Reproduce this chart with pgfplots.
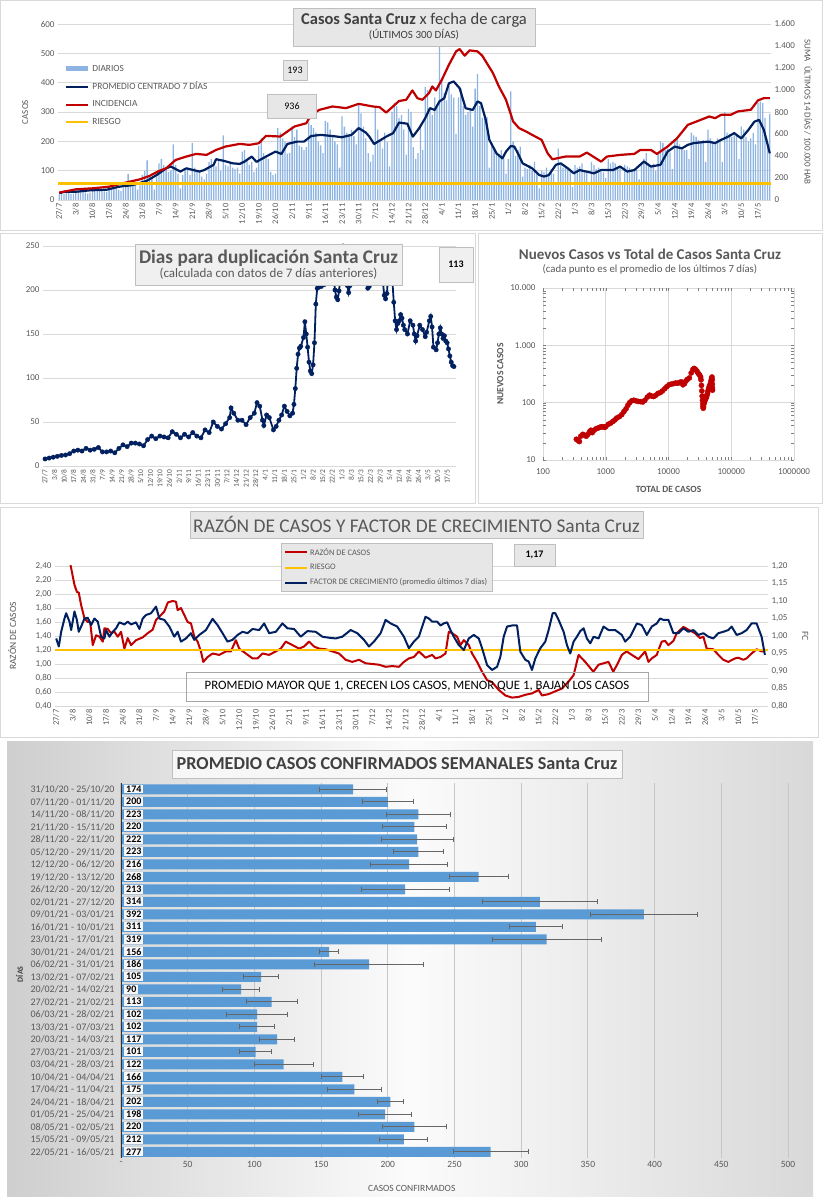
\documentclass[border=0pt]{standalone}
\usepackage{fontspec}
\setmainfont{Carlito}
\usepackage{pgfplots}
\pgfplotsset{compat=1.18}
\usepackage{pgfplotstable}

\definecolor{navy}{HTML}{002060}
\definecolor{dred}{HTML}{C00000}
\definecolor{gold}{HTML}{FFC000}
\definecolor{barblue}{HTML}{8DB4E2}
\definecolor{bblue}{HTML}{5B9BD5}
\definecolor{txt}{HTML}{595959}
\definecolor{ttl}{HTML}{404040}
\definecolor{gridc}{HTML}{D9D9D9}
\definecolor{boxbg}{HTML}{E7E7E7}
\definecolor{boxln}{HTML}{BFBFBF}

\newcommand\fs[1]{\fontsize{#1}{#1}\selectfont}

\tikzset{tbox/.style={draw=boxln, fill=boxbg, align=center, text=ttl, inner sep=2pt}}
\pgfplotsset{
  base/.style={scale only axis, anchor=south west,
    /pgf/number format/assume math mode=true,
    tick label style={text=txt, font=\fs{9}}, label style={text=txt},
    major tick length=0pt, grid style={gridc, line width=0.6pt}},
  dates/.style={xtick={0,7,...,294},
    xticklabels={27/7,3/8,10/8,17/8,24/8,31/8,7/9,14/9,21/9,28/9,5/10,12/10,19/10,26/10,2/11,9/11,16/11,23/11,30/11,7/12,14/12,21/12,28/12,4/1,11/1,18/1,25/1,1/2,8/2,15/2,22/2,1/3,8/3,15/3,22/3,29/3,5/4,12/4,19/4,26/4,3/5,10/5,17/5},
    xticklabel style={rotate=90, anchor=east, font=\fs{8.5}}},
}

% daily cases, 27/7 .. 22/5
\pgfplotstableread[header=false,row sep=\\]{
18\\30\\22\\28\\25\\20\\
22\\33\\30\\35\\28\\26\\22\\
25\\38\\36\\40\\33\\30\\29\\
28\\44\\42\\48\\40\\35\\30\\
40\\62\\88\\60\\55\\52\\35\\
50\\85\\100\\135\\80\\75\\35\\
80\\125\\140\\120\\110\\95\\100\\
190\\120\\90\\40\\85\\100\\110\\
85\\195\\110\\95\\100\\80\\70\\
90\\130\\140\\125\\115\\140\\100\\
220\\120\\115\\130\\110\\105\\110\\
90\\165\\170\\140\\120\\130\\95\\
110\\185\\210\\160\\150\\140\\95\\
85\\90\\245\\230\\210\\200\\158\\
160\\250\\215\\240\\185\\180\\170\\
180\\265\\255\\245\\230\\200\\186\\
160\\270\\265\\240\\215\\200\\190\\
110\\285\\250\\230\\220\\240\\219\\
190\\325\\295\\250\\210\\160\\131\\
155\\315\\240\\200\\175\\230\\197\\
115\\300\\330\\320\\280\\290\\241\\
155\\310\\300\\180\\140\\160\\246\\
170\\385\\375\\310\\290\\350\\318\\
530\\410\\365\\340\\390\\360\\349\\
225\\350\\380\\320\\290\\300\\312\\
250\\380\\430\\320\\280\\290\\283\\
110\\190\\170\\160\\150\\170\\142\\
90\\140\\370\\200\\150\\170\\182\\
80\\110\\105\\120\\100\\130\\90\\
40\\100\\95\\110\\90\\105\\90\\
60\\175\\120\\110\\115\\105\\106\\
45\\120\\110\\115\\125\\100\\99\\
60\\130\\120\\105\\110\\95\\94\\
75\\140\\125\\130\\125\\110\\114\\
55\\120\\115\\110\\105\\100\\102\\
70\\125\\140\\160\\120\\115\\124\\
100\\160\\200\\195\\170\\175\\162\\
105\\200\\210\\190\\180\\170\\170\\
140\\230\\220\\215\\205\\200\\204\\
130\\240\\210\\200\\195\\210\\201\\
130\\300\\230\\225\\215\\220\\220\\
140\\250\\240\\215\\200\\210\\229\\
190\\330\\335\\330\\280\\180\\294\\
}\daily

\begin{document}
\begin{tikzpicture}
\fill[white] (0pt,0pt) rectangle (823pt,1200pt);
\draw[gridc] (0.5pt,970pt) rectangle (822.5pt,1199.5pt);
\draw[gridc] (0.5pt,697pt) rectangle (475pt,967pt);
\draw[gridc] (478pt,697pt) rectangle (822.5pt,967pt);
\draw[gridc] (0.5pt,463pt) rectangle (818pt,693pt);
\shade[left color=gray!38, right color=gray!30, middle color=white!97!gray] (7pt,3pt) rectangle (813pt,458pt);

% ---------------- panel 1 : casos x fecha de carga
\begin{axis}[base, dates, at={(58pt,1000pt)}, width=713pt, height=176pt,
  xmin=-0.5, xmax=299.5, ymin=0, ymax=600, ytick={0,100,...,600}, ymajorgrids,
  axis x line*=bottom, axis y line*=left, axis line style={-},
  x axis line style={draw=gridc}, y axis line style={draw=none},
  ylabel={CASOS}, ylabel style={at={(axis description cs:-0.046,0.5)}, anchor=center, font=\fs{9}}]
\addplot[ybar, bar width=0.55, fill=barblue, draw=none] table[x expr=\coordindex, y index=0] {\daily};
\addplot[navy, line width=2.2pt, line join=round] coordinates {
(0,23)(2,28)(7,28)(13,33)(20,35)(25,45)(31,51)(34,58)(37,66)(41,85)(45,108)(47,114)
(51,97)(53.5,108)(56,103)(59,97)(61,102)(65,120)(66,139)(69,134)(73,125)(76,123)
(78,131)(81,148)(83,130)(87,148)(91,165)(93.5,157)(96,191)(100,199)(103,199)(106,218)
(110,222)(115,218)(119,214)(123,222)(126,245)(129,230)(130.5,216)(132.5,191)(137.6,216)
(140.5,228)(143,264)(146.5,260)(148.8,216)(151.5,245)(154,279)(156,313)(158,307)(160,336)
(162,347)(164,398)(166,404)(168.5,381)(171,313)(174,307)(176,336)(177.5,330)(179.5,273)
(181,205)(184,159)(186.5,142)(188,165)(190,184)(191.5,182)(193,159)(195,125)(199,108)
(202,85)(204,80)(206,85)(209,120)(211,125)(214,108)(216.5,91)(219,102)(225,91)(228,102)
(233,102)(236,114)(239,97)(242,102)(246,131)(249,114)(253,120)(256,165)(259,182)(262,176)
(264.5,188)(267,194)(273,199)(276,194)(278.5,205)(281.5,216)(284,228)(287,210)(290,239)
(292.5,267)(294.5,273)(296.5,239)(299,159)};
\end{axis}
\begin{axis}[base, at={(58pt,1000pt)}, width=713pt, height=176pt,
  xmin=-0.5, xmax=299.5, ymin=0, ymax=1600, ytick={0,200,...,1600},
  axis x line=none, axis y line*=right, axis line style={-}, y axis line style={draw=none},
  /pgf/number format/1000 sep={.},
  ylabel={SUMA \ ÚLTIMOS 14 DÍAS / 100.000 HAB},
  ylabel style={at={(axis description cs:1.052,0.5)}, anchor=center, rotate=180, font=\fs{9}},
  legend image code/.code={\draw[#1] (0pt,0pt) -- (22pt,0pt);},
  legend cell align=left,
  legend style={at={(axis description cs:0.008,0.78)}, anchor=north west, draw=none, fill=none,
    font=\fs{9.4}, text=txt, row sep=5.5pt, inner sep=0pt}]
\addlegendimage{barblue, line width=4.5pt}\addlegendentry{DIARIOS}
\addlegendimage{navy, line width=2.2pt}\addlegendentry{PROMEDIO CENTRADO 7 DÍAS}
\addplot[dred, line width=2.2pt, line join=round] coordinates {
(0,67)(7,97)(14,106)(21,121)(28,158)(34,188)(38,219)(42,264)(45,288)(49,364)(53.5,395)
(57.6,419)(62,410)(66,455)(70,486)(76,510)(80,501)(84,516)(87,583)(93,577)(99,668)
(104,698)(106,774)(109.5,820)(115,850)(120.7,835)(126,874)(132,850)(134.8,844)(137.6,795)
(143,900)(146,911)(148.6,996)(150.7,926)(152.8,911)(155.6,972)(157,1032)(158.5,996)
(161,1093)(164,1230)(167,1351)(168.5,1372)(170.6,1312)(172.7,1360)(176,1351)(178,1312)
(182.5,1154)(185,1032)(188,911)(191,714)(193.5,653)(196.5,622)(199,592)(203,546)
(205.5,425)(207.5,370)(213,395)(219,395)(222,431)(228,349)(230.5,395)(236,410)(242,419)
(244.5,455)(249,455)(251.5,419)(256,486)(260,562)(264.5,683)(270,729)(273.5,759)(276,744)
(278.5,774)(282.5,774)(285.5,805)(291,820)(294,905)(296.5,926)(299,926)};
\addlegendentry{INCIDENCIA}
\addplot[gold, line width=2.2pt] coordinates {(-0.5,150)(299.5,150)};
\addlegendentry{RIESGO}
\end{axis}
\node[tbox, minimum width=242pt, minimum height=38pt] at (414pt,1173pt)
  {{\fs{16.5}\textbf{Casos Santa Cruz} x fecha de carga}\\[1pt]{\fs{11}(ÚLTIMOS 300 DÍAS)}};
\node[tbox, text=black, minimum width=24pt, minimum height=20pt, font=\fs{10}] at (295pt,1130pt) {193};
\node[tbox, text=black, minimum width=49pt, minimum height=24pt, font=\fs{10}] at (292pt,1094pt) {936};

% ---------------- panel 2 : dias para duplicacion
\begin{axis}[base, dates, at={(43pt,734pt)}, width=413pt, height=220pt,
  xmin=-1.5, xmax=300.5, ymin=0, ymax=250, ytick={0,50,...,250}, ymajorgrids,
  axis x line*=bottom, axis y line*=left, axis line style={-},
  x axis line style={draw=gridc}, y axis line style={draw=none},
  xticklabel style={font=\fs{7.5}}]
\addplot[navy, line width=1.8pt, mark=*, mark size=2.2pt, mark options={line width=0.4pt}] coordinates {
(0,8)(3,9)(6,10)(9,11)(12,12)(15,12.5)(18,14)(21,17)(24,18)(27,17)(30,20)(33,18)(36,19)
(39,21)(42,16)(45,16)(48,17)(51,15)(54,20)(57,24)(60,22)(63,26)(66,26)(69,25)(72,23)
(75,30)(78,34)(81,31)(84,34)(87,33)(90,32)(93,39)(96,36)(99,32)(102,36)(105,33)(108,38)
(111,34)(114,32)(117,41)(120,38)(123,50)(126,45)(129,42)(132,48)(135,55)(136,66)(138,60)
(141,52)(144,52)(147,47)(150,55)(153,60)(155,72)(157,68)(159,52)(160,46)(162,58)(164,55)
(167,41)(169,45)(171,52)(173,58)(175,68)(177,62)(179,57)(181,60)(182,70)(183,88)(184,111)
(185,127)(186,134)(187,136)(189,146)(190,164)(191,150)(192,135)(193,118)(194,108)(195,105)
(196,115)(197,140)(198,184)(199,202)(200,203)(202,204)(204,206)(206,230)(208,260)(210,240)
(211,215)(212,200)(213,192)(214,189)(215,199)(216,215)(218,250)(220,230)(221,205)(222,197)
(223,205)(225,240)(228,270)(231,240)(234,215)(236,202)(237,204)(239,230)(242,260)(245,240)
(247,210)(248,194)(249,190)(250,196)(251,220)(253,240)(254,210)(255,186)(256,165)(257,155)
(258,162)(259,165)(260,172)(261,168)(262,160)(263,155)(265,150)(267,165)(269,160)(270,150)
(271,142)(272,148)(274,160)(276,155)(278,147)(279,152)(281,165)(282,170)(283,158)(284,135)
(286,132)(287,140)(288,150)(289,157)(290,150)(291,145)(292,148)(293,142)(294,140)(295,133)
(296,125)(297,118)(298,114)(299,113)};
\end{axis}
\node[tbox, fill=gray!12, minimum width=267pt, minimum height=41pt, text=txt] at (268.5pt,935.5pt)
  {{\fs{19.3}\textbf{Dias para duplicación Santa Cruz}}\\[1pt]{\fs{13}(calculada con datos de 7 días anteriores)}};
\node[tbox, fill=gray!12, text=black, minimum width=34pt, minimum height=35pt, font=\fs{10}\bfseries] at (456pt,935.5pt) {113};

% ---------------- panel 3 : nuevos vs total
\begin{axis}[base, at={(543pt,740pt)}, width=251pt, height=172pt,
  xmode=log, ymode=log, xmin=100, xmax=1000000, ymin=10, ymax=10000,
  xtick={100,1000,10000,100000,1000000}, xticklabels={100,1000,10000,100000,1000000},
  ytick={10,100,1000,10000}, yticklabels={10,100,1.000,10.000},
  xticklabel style={yshift=-5pt}, yticklabel style={xshift=-4pt},
  grid=major, axis line style={draw=none},
  xlabel={\textbf{TOTAL DE CASOS}}, xlabel style={font=\fs{9.5}, at={(axis description cs:0.5,-0.17)}, anchor=center},
  ylabel={\textbf{NUEVOS CASOS}}, ylabel style={font=\fs{9.5}, at={(axis description cs:-0.17,0.5)}, anchor=center}]
\addplot[only marks, mark=*, mark size=2.6pt, dred] coordinates {
(340,23)(360,22)(380,21)(400,26)(430,28)(460,27)(490,26)(520,28)(550,31)(580,33)(610,30)
(650,33)(700,35)(750,36)(800,37)(850,38)(900,38)(950,37)(1000,38)(1100,42)(1200,44)
(1300,47)(1400,50)(1500,54)(1650,57)(1800,62)(1950,70)(2100,78)(2250,90)(2400,100)
(2600,108)(2800,110)(3000,108)(3300,105)(3600,104)(3900,103)(4200,110)(4600,125)(5000,135)
(5400,130)(5800,128)(6300,135)(6800,145)(7400,150)(8000,160)(8700,175)(9400,190)(10200,205)
(11000,210)(12000,215)(13000,220)(14000,218)(15000,225)(16000,230)(17000,205)(18000,215)
(19000,240)(20000,255)(21500,270)(23000,330)(24500,380)(25500,395)(26500,385)(27500,370)
(28500,350)(29500,330)(30500,315)(31500,300)(32500,280)(33000,250)(33500,200)(34000,160)
(34400,130)(34800,110)(35200,95)(35500,85)(35800,80)(36200,85)(36600,95)(37000,100)
(37500,105)(38000,110)(38700,115)(39500,120)(40300,125)(41000,135)(41800,145)(42600,160)
(43500,175)(44500,190)(45500,200)(46500,215)(47500,240)(48500,265)(49300,280)(49800,250)
(50000,210)(50100,180)(50200,165)};
\end{axis}
\node[text=txt, font=\fs{15}\bfseries] at (650pt,946pt) {Nuevos Casos vs Total de Casos Santa Cruz};
\node[text=txt, font=\fs{10.8}] at (650pt,931pt) {(cada punto es el promedio de los últimos 7 días)};

% ---------------- panel 4 : razon de casos y factor de crecimiento
\begin{axis}[base, dates, at={(55pt,494pt)}, width=713pt, height=140pt,
  xmin=-0.5, xmax=299.5, ymin=0.4, ymax=2.4, ytick={0.4,0.6,0.8,1,1.2,1.4,1.6,1.8,2,2.2,2.4},
  yticklabel style={/pgf/number format/.cd, fixed, fixed zerofill, precision=2, use comma},
  ymajorgrids, axis x line*=bottom, axis y line*=left, axis line style={-},
  x axis line style={draw=gridc}, y axis line style={draw=none},
  ylabel={RAZÓN DE CASOS}, ylabel style={at={(axis description cs:-0.06,0.5)}, anchor=center, font=\fs{9.5}}]
\addplot[dred, line width=2pt, line join=round] coordinates {
(4,2.9)(6,2.42)(7.7,2.13)(8.7,2.03)(9.5,2.02)(10.5,1.84)(11.9,1.65)(13.3,1.60)(14.3,1.60)
(15.4,1.27)(16.8,1.41)(18.2,1.39)(19.6,1.32)(20.3,1.51)(21.7,1.50)(23.1,1.44)(24.5,1.46)
(25.9,1.39)(27.3,1.46)(28.7,1.22)(30.1,1.37)(31.5,1.27)(33.6,1.34)(36.4,1.38)(38.5,1.44)
(40.6,1.49)(42,1.63)(44.1,1.70)(45.5,1.75)(47,1.88)(49,1.90)(50.4,1.89)(51.1,1.77)(52.5,1.80)
(53.9,1.70)(55.3,1.60)(56.7,1.58)(58.1,1.39)(59.5,1.32)(60.9,1.18)(61.9,1.03)(63.7,1.10)
(65.8,1.15)(68.6,1.13)(71.4,1.18)(73.5,1.18)(75.6,1.34)(77,1.22)(79.8,1.15)(82.6,1.08)
(84.7,1.08)(86.8,1.15)(89.6,1.13)(92.4,1.18)(94.5,1.22)(96.6,1.32)(99.4,1.27)(102.2,1.22)
(104.3,1.25)(106.4,1.32)(108.5,1.25)(110.6,1.22)(113.4,1.21)(116.2,1.18)(119,1.15)
(121.8,1.06)(124.6,1.03)(127.4,1.06)(130.2,1.01)(133,1.00)(135.8,0.99)(138.6,0.96)
(141.4,0.97)(144.2,0.96)(146.3,1.03)(148.4,1.08)(150.5,1.10)(152.6,1.18)(155.4,1.09)
(158.2,1.13)(159.6,1.08)(161.7,1.10)(163.8,1.15)(165.2,1.46)(166.6,1.44)(168.7,1.39)
(170.1,1.27)(171.5,1.34)(173.6,1.27)(175,1.15)(177.1,1.03)(179.2,0.89)(181.3,0.77)
(183.4,0.74)(186.2,0.63)(189,0.55)(191.8,0.52)(194.6,0.53)(197.4,0.56)(200.2,0.58)
(203,0.63)(204.4,0.55)(207.2,0.57)(210,0.61)(212.8,0.65)(215.6,0.75)(217.7,0.84)
(219.8,1.13)(222.6,1.03)(226,0.89)(228.2,0.99)(230.3,1.01)(232.4,1.03)(234.4,0.89)
(236,0.99)(238,1.13)(240,1.18)(242.2,1.13)(245,1.07)(247.8,1.18)(249.2,1.03)(250.6,1.08)
(252.7,1.13)(253.4,1.20)(254.8,1.32)(256.2,1.33)(257.6,1.27)(259.7,1.33)(261.1,1.44)
(263.9,1.53)(266,1.49)(268.8,1.44)(270.9,1.37)(272.3,1.39)(273.7,1.22)(276.5,1.21)
(278.6,1.13)(280.7,1.06)(282.8,1.03)(285.6,1.08)(287,1.09)(289.1,1.06)(290.5,1.08)
(292.6,1.15)(294.7,1.21)(296.8,1.18)(298.2,1.18)};
\addplot[gold, line width=2.2pt] coordinates {(-0.5,1.2)(299.5,1.2)};
\end{axis}
\begin{axis}[base, at={(55pt,494pt)}, width=713pt, height=140pt,
  xmin=-0.5, xmax=299.5, ymin=0.8, ymax=1.2, ytick={0.8,0.85,0.9,0.95,1,1.05,1.1,1.15,1.2},
  yticklabel style={/pgf/number format/.cd, fixed, fixed zerofill, precision=2, use comma},
  axis x line=none, axis y line*=right, axis line style={-}, y axis line style={draw=none},
  ylabel={FC}, ylabel style={at={(axis description cs:1.052,0.5)}, anchor=center, rotate=180, font=\fs{9.5}},
  legend image code/.code={\draw[#1] (0pt,0pt) -- (22pt,0pt);},
  legend cell align=left,
  legend style={at={(axis description cs:0.317,1.164)}, anchor=north west, draw=boxln, fill=boxbg,
    font=\fs{8.4}, text=txt, row sep=3.5pt, inner sep=3pt}]
\addlegendimage{dred, line width=2pt}\addlegendentry{RAZÓN DE CASOS}
\addlegendimage{gold, line width=2pt}\addlegendentry{RIESGO}
\addplot[navy, line width=2pt, line join=round] coordinates {
(0,0.993)(1.1,0.970)(2.1,1.012)(3.5,1.050)(4.2,1.065)(5.6,1.041)(6.3,1.017)(7.7,1.070)
(8.7,1.046)(9.5,1.012)(10.5,1.027)(11.9,1.050)(13.3,1.052)(14.7,1.031)(16.1,1.050)(17.5,1.041)
(18.9,0.998)(20.3,0.993)(21,1.017)(22.4,0.998)(23.8,1.012)(25.2,1.022)(26.6,1.039)(28.7,1.033)
(30.1,1.041)(31.5,1.033)(33.6,1.039)(35,1.020)(36.4,1.050)(37.8,1.060)(39.9,1.065)(42,1.084)
(43.4,1.050)(45.5,1.046)(47.6,1.027)(49.7,0.998)(51.1,1.012)(52.5,0.984)(54.6,0.993)
(56.7,1.008)(58.1,0.989)(60.2,1.003)(63,1.017)(65.8,1.049)(67.9,1.031)(70,1.008)(72.1,0.984)
(74.2,0.989)(76.3,1.003)(78.4,1.012)(80.5,1.008)(82.6,1.020)(85.4,1.017)(87.5,1.036)
(89.6,1.008)(92.4,1.012)(95.2,1.036)(97.3,1.022)(100.1,1.020)(102.9,0.998)(105.7,1.014)
(109.2,1.012)(112,0.998)(114.8,0.995)(117.6,0.993)(120.4,0.998)(123.9,1.017)(126.7,1.008)
(129.5,0.989)(131.6,0.970)(133.7,0.984)(136.5,1.008)(138.6,1.046)(140.7,1.036)(143.5,1.027)
(146.3,0.998)(148.4,0.965)(150.5,0.984)(152.6,0.998)(155.4,1.055)(156.8,1.050)(158.2,1.041)
(160.3,1.041)(161.7,1.030)(163.1,1.036)(164.5,1.039)(165.9,1.017)(167.3,0.998)(169.4,0.974)
(171.5,0.960)(173.6,0.993)(175.7,1.003)(177.8,0.993)(179.2,0.965)(181.3,0.917)(183.4,0.903)
(185.5,0.912)(186.9,0.941)(188.3,0.998)(189.7,1.027)(191.8,1.030)(193.9,1.030)(195.3,0.955)
(197.4,0.932)(198.8,0.927)(200.2,0.903)(201.6,0.936)(203.7,0.965)(205.8,0.984)(207.2,1.017)
(208.9,1.065)(210,1.065)(211.4,1.046)(213.5,1.012)(214.9,0.974)(216.3,0.950)(217.7,0.984)
(219.1,0.998)(220.5,1.014)(221.9,1.022)(223.3,0.993)(224.7,0.979)(226.1,0.998)(228.2,0.993)
(230.3,1.027)(232.4,1.017)(235.2,1.017)(238,1.003)(239.4,0.984)(241.5,0.998)(244.3,1.036)
(246.4,1.031)(248.5,1.003)(250.6,1.027)(252.7,1.036)(254.1,1.050)(255.5,1.046)(257.6,1.046)
(259.7,1.008)(261.8,1.008)(263.9,1.022)(266,1.012)(268.1,1.017)(270.2,1.003)(272.3,1.008)
(274.4,0.998)(276.5,0.993)(278.6,1.008)(280.7,1.012)(282.8,1.017)(284.2,1.027)(286.3,1.003)
(288.4,1.008)(290.5,1.017)(292.6,1.036)(294.7,1.036)(296.8,0.998)(298.2,0.946)};
\addlegendentry{FACTOR DE CRECIMIENTO (promedio últimos 7 días)}
\end{axis}
\node[tbox, minimum width=453pt, minimum height=27pt, text=txt, font=\fs{19.4}] at (416.5pt,675.5pt)
  {RAZÓN DE CASOS Y FACTOR DE CRECIMIENTO Santa Cruz};
\node[tbox, text=black, minimum width=41pt, minimum height=22pt, font=\fs{10}\bfseries] at (534.5pt,645pt) {1,17};
\node[draw=gray!70, minimum width=462pt, minimum height=29pt, text=black, font=\fs{12.8}] at (417pt,513.5pt)
  {PROMEDIO MAYOR QUE 1, CRECEN LOS CASOS, MENOR QUE 1, BAJAN LOS CASOS};

% ---------------- panel 5 : promedio semanal
\begin{axis}[base, at={(121pt,42pt)}, width=667pt, height=375pt,
  xmin=0, xmax=500, ymin=-0.5, ymax=29.5, y dir=reverse,
  xtick={0,50,...,500}, xticklabels={-,50,100,150,200,250,300,350,400,450,500},
  ytick={0,...,29},
  yticklabels={31/10/20 - 25/10/20,07/11/20 - 01/11/20,14/11/20 - 08/11/20,21/11/20 - 15/11/20,
    28/11/20 - 22/11/20,05/12/20 - 29/11/20,12/12/20 - 06/12/20,19/12/20 - 13/12/20,
    26/12/20 - 20/12/20,02/01/21 - 27/12/20,09/01/21 - 03/01/21,16/01/21 - 10/01/21,
    23/01/21 - 17/01/21,30/01/21 - 24/01/21,06/02/21 - 31/01/21,13/02/21 - 07/02/21,
    20/02/21 - 14/02/21,27/02/21 - 21/02/21,06/03/21 - 28/02/21,13/03/21 - 07/03/21,
    20/03/21 - 14/03/21,27/03/21 - 21/03/21,03/04/21 - 28/03/21,10/04/21 - 04/04/21,
    17/04/21 - 11/04/21,24/04/21 - 18/04/21,01/05/21 - 25/04/21,08/05/21 - 02/05/21,
    15/05/21 - 09/05/21,22/05/21 - 16/05/21},
  xmajorgrids, grid style={gray!45, line width=0.9pt}, axis line style={draw=none},
  xticklabel style={font=\fs{9.5}}, yticklabel style={font=\fs{10}, xshift=-3pt},
  xlabel={CASOS CONFIRMADOS}, xlabel style={font=\fs{9.5}, at={(axis description cs:0.436,-0.08)}, anchor=center},
  ylabel={\textbf{DÍAS}}, ylabel style={font=\fs{8}, at={(axis description cs:-0.152,0.49)}, anchor=center, text=ttl}]
\addplot[xbar, bar width=0.8, fill=bblue, draw=none,
  error bars/.cd, x dir=both, x explicit,
  error bar style={draw=black!60, line width=0.7pt},
  error mark options={draw=black!60, line width=0.7pt, mark size=2.5pt, rotate=90}]
  coordinates {
(174,0) +- (25,0) (200,1) +- (19,0) (223,2) +- (24,0) (220,3) +- (24,0) (222,4) +- (27,0)
(223,5) +- (19,0) (216,6) +- (29,0) (268,7) +- (22,0) (213,8) +- (33,0) (314,9) +- (43,0)
(392,10) +- (40,0) (311,11) +- (20,0) (319,12) +- (41,0) (156,13) +- (7,0) (186,14) +- (41,0)
(105,15) +- (13,0) (90,16) +- (14,0) (113,17) +- (19,0) (102,18) +- (23,0) (102,19) +- (13,0)
(117,20) +- (13,0) (101,21) +- (12,0) (122,22) +- (22,0) (166,23) +- (16,0) (175,24) +- (20,0)
(202,25) +- (10,0) (198,26) +- (20,0) (220,27) +- (24,0) (212,28) +- (18,0) (277,29) +- (28,0)};
\addplot[draw=none, mark=none, nodes near coords, point meta=explicit symbolic,
  nodes near coords style={anchor=west, xshift=3pt, fill=gray!6, inner xsep=2pt, inner ysep=1pt,
    font=\fs{10}\bfseries, text=black}]
  coordinates {
(0,0)[174] (0,1)[200] (0,2)[223] (0,3)[220] (0,4)[222] (0,5)[223] (0,6)[216] (0,7)[268]
(0,8)[213] (0,9)[314] (0,10)[392] (0,11)[311] (0,12)[319] (0,13)[156] (0,14)[186] (0,15)[105]
(0,16)[90] (0,17)[113] (0,18)[102] (0,19)[102] (0,20)[117] (0,21)[101] (0,22)[122] (0,23)[166]
(0,24)[175] (0,25)[202] (0,26)[198] (0,27)[220] (0,28)[212] (0,29)[277]};
\draw[black!80, line width=1.3pt] (axis cs:0,-0.5) -- (axis cs:0,29.5);
\end{axis}
\node[tbox, fill=gray!6, minimum width=450pt, minimum height=28pt, font=\fs{18.2}\bfseries] at (397pt,436pt)
  {PROMEDIO CASOS CONFIRMADOS SEMANALES Santa Cruz};
\end{tikzpicture}
\end{document}
